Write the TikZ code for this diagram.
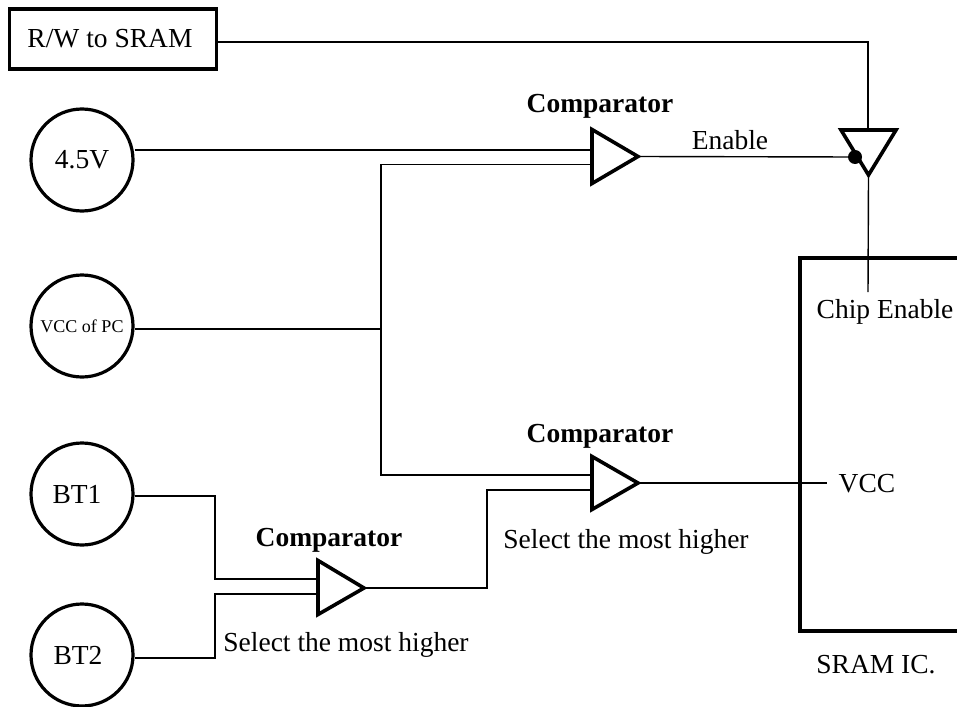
\documentclass[tikz,border=0pt]{standalone}
\usepackage{fontspec}
\setmainfont{Liberation Serif}
\tikzset{
  src/.style={circle,draw,line width=3.2pt,minimum size=102pt,inner sep=0pt,font=\fontsize{27.5}{30}\selectfont},
  wire/.style={line width=1.4pt},
  thick outline/.style={draw,line width=3.6pt,miter limit=10},
  lbl/.style={inner sep=0pt,font=\fontsize{27.5}{30}\selectfont},
  blbl/.style={inner sep=0pt,font=\fontsize{27.5}{30}\selectfont\bfseries}
}
\begin{document}
\begin{tikzpicture}[x=1pt,y=-1pt]
\useasboundingbox (0,0) rectangle (957,706);
\fill[white] (0,0) rectangle (957,706);
% sources
\node[draw,line width=3.6pt,minimum width=207pt,minimum height=60pt,inner sep=0pt,font=\fontsize{27.5}{30}\selectfont] (rw) at (113,39) {\raisebox{-1.5pt}{R/W to SRAM}\kern6pt};
\node[src] (v45) at (82,160) {4.5V};
\node[src,font=\fontsize{18}{20}\selectfont] (vcc) at (82,326) {VCC of PC};
\node[src] (bt1) at (82,494) {BT1\kern10pt};
\node[src] (bt2) at (82,655) {BT2\kern8pt};
% coordinates
\coordinate (c1a) at (592,150);
\coordinate (c1b) at (592,164.5);
\coordinate (c1o) at (638,156.5);
\coordinate (c2a) at (592,475);
\coordinate (c2b) at (592,490);
\coordinate (c2o) at (638,483);
\coordinate (c3a) at (318,579);
\coordinate (c3b) at (318,594);
\coordinate (c3o) at (364,588);
\coordinate (bufin) at (868,130);
\coordinate (bufout) at (868.5,175);
\coordinate (en) at (855,157);
\coordinate (busj) at (381,329);
\coordinate (ce) at (868,292);
\coordinate (vccend) at (827,483);
% wires
\draw[wire] (rw.east |- 0,42) -- (868,42) -- (bufin);
\draw[wire] (v45.east |- c1a) -- (c1a);
\draw[wire] (c1b) -- (381,164.5) -- (381,475) -- (c2a);
\draw[wire] (vcc.east |- busj) -- (busj);
\draw[wire] (c1o) -- (en);
\draw[wire] (bufout) -- (ce);
\draw[wire] (c2o) -- (vccend);
\draw[wire] (c3o) -- (487,588) -- (487,490) -- (c2b);
\draw[wire] (bt1.east |- 0,496) -- (215,496) -- (215,579) -- (c3a);
\draw[wire] (c3b) -- (215,594) -- (215,658) -- (bt2.east |- 0,658);
% comparators
\filldraw[thick outline,fill=white] (592,129.5) -- (c1o) -- (592,183.5) -- cycle;
\filldraw[thick outline,fill=white] (592,456.5) -- (c2o) -- (592,509.5) -- cycle;
\filldraw[thick outline,fill=white] (318,560.5) -- (c3o) -- (318,614.5) -- cycle;
\draw[thick outline] (841,130) -- (896,130) -- (bufout) -- cycle;
\fill (en) circle (7);
% SRAM
\draw[line width=3.8pt] (960,258) -- (800,258) -- (800,631) -- (960,631);
% labels
\node[blbl] (t1) at (600,106) {Comparator};
\node[blbl] (t2) at (600,436) {Comparator};
\node[blbl] (t3) at (329,540) {Comparator};
\node[lbl] (e) at (730,140) {Enable};
\node[lbl] (chip) at (885,312) {Chip Enable};
\node[lbl] (v) at (867,484) {VCC};
\node[lbl] (s1) at (626,542) {Select the most higher};
\node[lbl] (s2) at (346,645) {Select the most higher};
\node[lbl] (ic) at (876,665) {SRAM IC.};
\end{tikzpicture}
\end{document}
